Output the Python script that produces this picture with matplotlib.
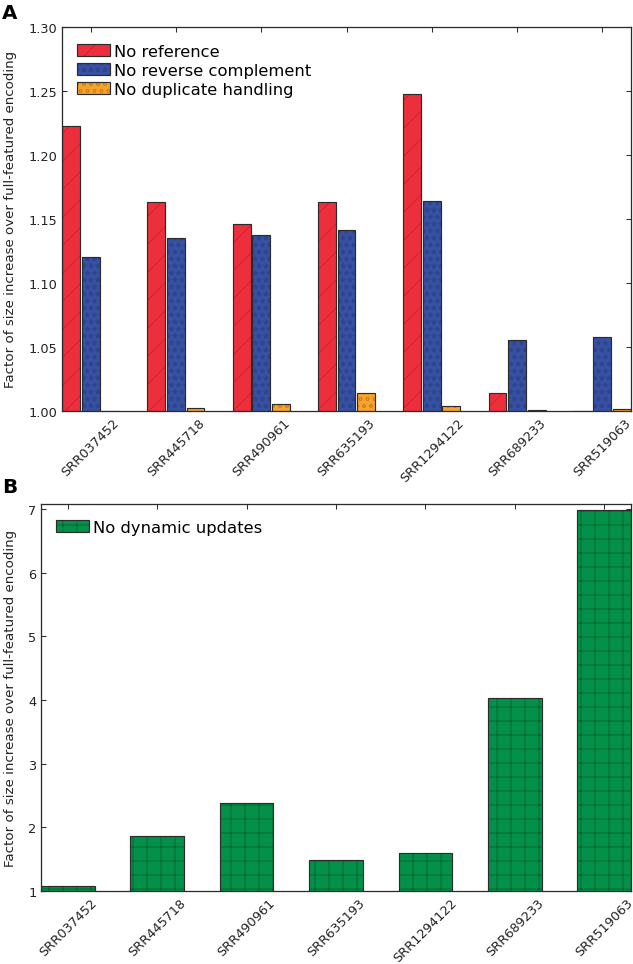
import numpy as np
import matplotlib
matplotlib.use("Agg")
import matplotlib.pyplot as plt

# ---- data ----
samples = ["SRR037452", "SRR445718", "SRR490961", "SRR635193",
           "SRR1294122", "SRR689233", "SRR519063"]
no_reference = [1.2225, 1.163, 1.146, 1.163, 1.2476, 1.0136, 1.0]
no_revcomp = [1.1205, 1.135, 1.137, 1.141, 1.1643, 1.0553, 1.058]
no_duplicate = [1.0, 1.0019, 1.005, 1.0136, 1.0034, 1.0003, 1.0013]
no_dynamic = [1.08, 1.86, 2.39, 1.48, 1.60, 4.04, 6.98]
labels_a = ["No reference", "No reverse complement", "No duplicate handling"]
label_b = "No dynamic updates"
yticks_a = [1.00, 1.05, 1.10, 1.15, 1.20, 1.25, 1.30]
yticks_b = [1, 2, 3, 4, 5, 6, 7]

DPI = 84
plt.rcParams["font.family"] = ["DejaVu Sans"]
plt.rcParams["hatch.linewidth"] = 0.7
EDGE = "#2b2b2b"

fig = plt.figure(figsize=(633 / DPI, 965 / DPI), dpi=DPI)
W, H = 633.0, 965.0

def axes_px(l, t, r, b):
    return fig.add_axes([l / W, 1 - b / H, (r - l) / W, (b - t) / H])

def bars(ax, x, h, w, face, hcol, hatch):
    filled = ax.bar(x, h, w, color=face, edgecolor=hcol, linewidth=0,
                    hatch=hatch, zorder=2)
    outline = ax.bar(x, h, w, fill=False, edgecolor=EDGE, linewidth=1.0,
                     zorder=3)
    return (filled, outline)

def style(ax):
    for s in ax.spines.values():
        s.set_color(EDGE)
        s.set_linewidth(1.1)
    ax.tick_params(direction="in", top=True, right=True, length=4.5,
                   width=0.9, color=EDGE, labelsize=11, labelcolor="#222222",
                   pad=4)
    ax.tick_params(axis="x", pad=4)
    ax.set_ylabel("Factor of size increase over full-featured encoding",
                  fontsize=11.5, color="#222222")

# ---------- Panel A ----------
axA = axes_px(62, 28, 631, 411.7)
x = np.arange(len(samples))
bw = 0.21
step = 0.23
hA = []
hA.append(bars(axA, x - step, no_reference, bw, "#ED2F3D", "#C4242F", "/"))
hA.append(bars(axA, x, no_revcomp, bw, "#3852A3", "#2D448E", "**"))
hA.append(bars(axA, x + step, no_duplicate, bw, "#F7A22C", "#C98319", "oo"))
axA.set_xlim(-0.335, len(samples) - 1 + 0.335)
axA.set_ylim(1.0, 1.30)
axA.set_yticks(yticks_a)
axA.set_yticklabels(["%.2f" % v for v in yticks_a])
axA.set_xticks(x)
axA.set_xticklabels(samples, rotation=45, ha="center")
style(axA)
axA.yaxis.set_label_coords((17 - 62) / 569, 0.5)
axA.legend(hA, labels_a, loc="upper left", bbox_to_anchor=(15 / 569, 1 - 17 / 384),
           borderaxespad=0, borderpad=0, frameon=False, fontsize=14,
           handlelength=2.0, handleheight=0.75, handletextpad=0.25,
           labelspacing=0.23)

# ---------- Panel B ----------
axB = axes_px(41, 505, 631, 892)
bwB = 0.6
hB = bars(axB, x, no_dynamic, bwB, "#03914A", "#06602F", "+")
axB.set_xlim(-bwB / 2, len(samples) - 1 + bwB / 2)
axB.set_ylim(1, 7.08)
axB.set_yticks(yticks_b)
axB.set_xticks(x)
axB.set_xticklabels(samples, rotation=45, ha="center")
style(axB)
axB.yaxis.set_label_coords((17 - 41) / 590, 0.5)
axB.legend([hB], [label_b], loc="upper left", bbox_to_anchor=(15 / 590, 1 - 16 / 387),
           borderaxespad=0, borderpad=0, frameon=False, fontsize=14,
           handlelength=2.0, handleheight=0.75, handletextpad=0.25)

fig.text(2 / W, 1 - 4 / H, "A", fontsize=17, fontweight="bold", va="top", ha="left")
fig.text(2 / W, 1 - 478 / H, "B", fontsize=17, fontweight="bold", va="top", ha="left")

fig.savefig("out.png", dpi=DPI)
